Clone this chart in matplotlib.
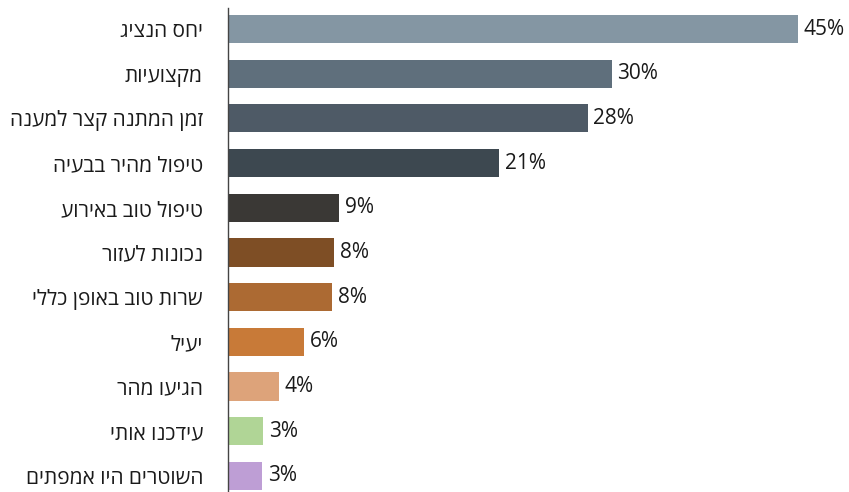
import matplotlib
matplotlib.use("Agg")
import matplotlib.pyplot as plt

plt.rcParams['font.family'] = ['Open Sans', 'DejaVu Sans']

labels = ["יחס הנציג", "מקצועיות", "זמן המתנה קצר למענה", "טיפול מהיר בבעיה",
          "טיפול טוב באירוע", "נכונות לעזור", "שרות טוב באופן כללי", "יעיל",
          "הגיעו מהר", "עידכנו אותי", "השוטרים היו אמפתים"]
values = [45.0, 30.3, 28.4, 21.4, 8.8, 8.4, 8.2, 6.0, 4.0, 2.8, 2.7]
colors = ["#8496a3", "#5f6f7c", "#4e5a66", "#3d4850", "#3a3835", "#7e4e25",
          "#ac6a33", "#c87a38", "#dda37a", "#b0d596", "#be9ed5"]

fig = plt.figure(figsize=(8.49, 4.92), dpi=100)
ax = fig.add_axes([228 / 849, 0, 621 / 849, 1 - 8 / 492])

ypos = list(range(len(values)))
ax.barh(ypos, values, height=0.63, color=colors)
for y, v in zip(ypos, values):
    ax.text(v + 0.45, y, "%d%%" % round(v), va='center', ha='left',
            fontsize=15, color='#1a1a1a')

ax.set_xlim(0, 49.03)
ax.set_ylim(10.36, -0.47)
ax.set_yticks(ypos)
ax.set_yticklabels([s[::-1] for s in labels], fontsize=15, color='#1a1a1a')
ax.tick_params(axis='y', length=0, pad=18)
ax.set_xticks([])
for side in ['top', 'right', 'bottom']:
    ax.spines[side].set_visible(False)
ax.spines['left'].set_color('#444444')
ax.spines['left'].set_linewidth(1)

fig.savefig("out.png", dpi=100)
